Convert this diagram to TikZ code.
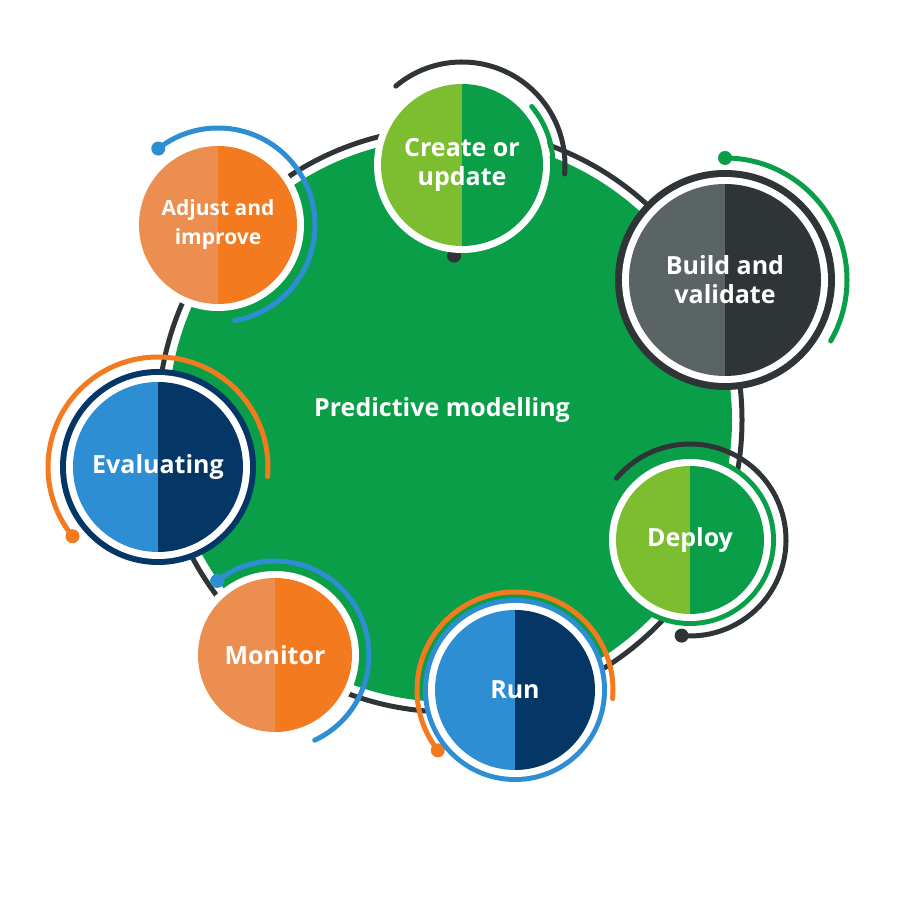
\documentclass[tikz,border=0pt]{standalone}
\usepackage{fontspec}
\setmainfont{Open Sans}
\usetikzlibrary{calc}
\definecolor{gmid}{HTML}{0A9E48}
\definecolor{glight}{HTML}{7DBE31}
\definecolor{gdark}{HTML}{2F3536}
\definecolor{ggrey}{HTML}{5A6464}
\definecolor{oblue}{HTML}{2D8ED3}
\definecolor{onavy}{HTML}{043666}
\definecolor{olight}{HTML}{EB8E4F}
\definecolor{orange}{HTML}{F47A20}
\tikzset{
  label text/.style={text=white,font=\bfseries\fontsize{25}{29}\selectfont,align=center},
  ring line/.style={line width=5pt,line cap=round},
}
% \stage{name}{centre}{radius}{left}{right}{text}
\newcommand{\stage}[6]{
  \fill[white] (#2) circle[radius=#3];
  \fill[#4] (#2) ++(90:#3-7) arc[start angle=90,end angle=270,radius=#3-7] -- cycle;
  \fill[#5] (#2) ++(-90:#3-7) arc[start angle=-90,end angle=90,radius=#3-7] -- cycle;
  \node[label text] (#1) at (#2) {#6};
}
% \track{centre}{radius}{colour}{from}{to}
\newcommand{\track}[5]{
  \draw[ring line,#3] (#1) ++(#4:#2) arc[start angle=#4,end angle=#5,radius=#2];
}
\begin{document}
\begin{tikzpicture}[x=1pt,y=1pt]
\useasboundingbox (0,0) rectangle (900,907);
\coordinate (hub) at (450,487);
\draw[gdark,line width=5pt] (hub) circle[radius=292];
\fill[gmid] (hub) circle[radius=282];
\node[label text] (core) at (442,497) {Predictive modelling};
% stages
\coordinate (c1) at (462,742);
\coordinate (c2) at (725,627);
\coordinate (c3) at (690,367);
\coordinate (c4) at (515,217);
\coordinate (c5) at (275,252);
\coordinate (c6) at (158,440);
\coordinate (c7) at (218,682);
\track{c1}{103}{gdark}{130}{-5}
\track{c1}{91}{gmid}{40}{-95}
\fill[gdark] ($(c1)+(-95:91)$) circle[radius=7];
\stage{create}{c1}{88}{glight}{gmid}{Create or\\update}
\track{c2}{122}{gmid}{90}{-30}
\fill[gmid] ($(c2)+(90:122)$) circle[radius=7];
\fill[gdark] (c2) circle[radius=110];
\stage{build}{c2}{103}{ggrey}{gdark}{Build and\\validate}
\track{c3}{96}{gdark}{140}{-95}
\fill[gdark] ($(c3)+(-95:96)$) circle[radius=7];
\fill[gmid] (c3) circle[radius=86];
\stage{deploy}{c3}{81}{glight}{gmid}{Deploy}
\track{c4}{98}{orange}{218}{-5}
\fill[orange] ($(c4)+(218:98)$) circle[radius=7];
\fill[oblue] (c4) circle[radius=92];
\stage{run}{c4}{87}{oblue}{onavy}{Run}
\track{c5}{94}{oblue}{128}{-65}
\fill[oblue] ($(c5)+(128:94)$) circle[radius=7];
\stage{monitor}{c5}{84}{olight}{orange}{Monitor}
\track{c6}{110}{orange}{219}{-5}
\fill[orange] ($(c6)+(219:110)$) circle[radius=7];
\fill[onavy] (c6) circle[radius=98];
\stage{evaluating}{c6}{92}{oblue}{onavy}{Evaluating}
\track{c7}{97}{oblue}{128}{-80}
\fill[oblue] ($(c7)+(128:97)$) circle[radius=7];
\stage{adjust}{c7}{86}{olight}{orange}{\fontsize{21}{26}\selectfont Adjust and\\\fontsize{21}{26}\selectfont improve}
\end{tikzpicture}
\end{document}
